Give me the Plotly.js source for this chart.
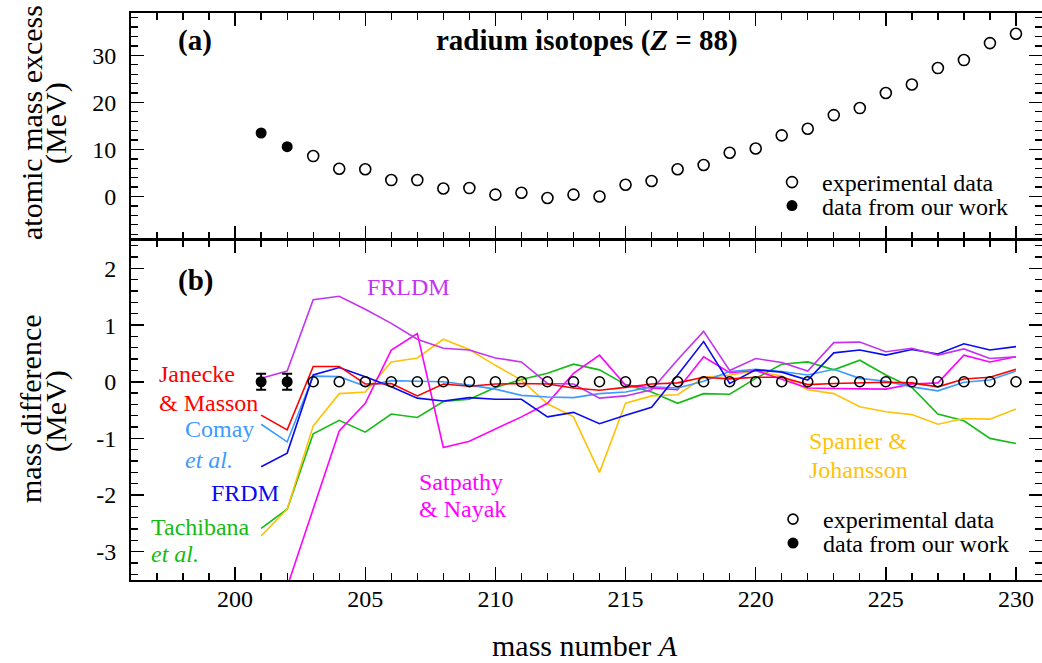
<!DOCTYPE html>
<html>
<head>
<meta charset="utf-8">
<script src="https://cdn.plot.ly/plotly-3.0.1.min.js"></script>
<style>html,body{margin:0;padding:0;background:#fff;}#chart{width:1042px;height:663px;}</style>
</head>
<body>
<div id="chart"></div>
<script>
// ---------- data ----------
const massNumbers = [201,202,203,204,205,206,207,208,209,210,211,212,213,214,215,216,217,218,219,220,221,222,223,224,225,226,227,228,229,230];

// panel (a): atomic mass excess (MeV)
const expA = [203,204,205,206,207,208,209,210,211,212,213,214,215,216,217,218,219,220,221,222,223,224,225,226,227,228,229,230];
const expMassExcess = [8.6,5.9,5.8,3.5,3.5,1.7,1.8,0.4,0.8,-0.3,0.4,0.0,2.5,3.3,5.8,6.7,9.3,10.2,13.0,14.4,17.3,18.8,22.0,23.8,27.3,29.0,32.6,34.6];
const ourA = [201,202];
const ourMassExcess = [13.5,10.6];

// panel (b): mass difference (MeV)
const expDiff = [0,0,0,0,0,0,0,0,0,0,0,0,0,0,0,0,0,0,0,0,0,0,0,0,0,0,0,0];
const ourDiff = [0,0];
const ourDiffErr = [0.14,0.14];

const janeckeMasson = [-0.59,-0.85,0.27,0.27,-0.04,-0.03,-0.25,-0.04,-0.08,-0.04,-0.03,-0.04,-0.11,-0.15,-0.10,-0.04,-0.02,0.08,0.05,0.08,0.08,-0.05,-0.03,-0.02,-0.01,-0.02,-0.09,0.05,0.08,0.22];
const comay = [-0.75,-1.06,0.10,0.09,-0.08,0.02,0.01,0.00,-0.06,-0.13,-0.24,-0.27,-0.28,-0.21,-0.18,-0.09,-0.11,0.01,0.18,0.22,0.18,0.12,0.22,0.06,0.01,-0.09,-0.16,-0.01,0.03,0.19];
const frdm = [-1.50,-1.26,0.12,0.25,0.09,-0.09,-0.29,-0.34,-0.28,-0.31,-0.31,-0.62,-0.54,-0.74,-0.59,-0.45,0.12,0.71,-0.03,0.21,0.17,0.03,0.51,0.56,0.47,0.57,0.49,0.67,0.56,0.62];
const tachibana = [-2.59,-2.25,-0.92,-0.68,-0.89,-0.57,-0.63,-0.35,-0.31,-0.10,0.04,0.15,0.31,0.21,-0.05,-0.18,-0.38,-0.21,-0.22,0.06,0.31,0.35,0.21,0.38,0.12,-0.10,-0.57,-0.69,-1.00,-1.09];
const spanierJohansson = [-2.72,-2.25,-0.78,-0.21,-0.18,0.35,0.42,0.75,0.57,0.29,0.03,-0.39,-0.62,-1.60,-0.38,-0.25,-0.23,0.08,0.12,0.19,0.10,-0.14,-0.21,-0.44,-0.53,-0.58,-0.75,-0.65,-0.66,-0.48];
const satpathyA = [202,203,204,205,206,207,208,209,210,211,212,213,214,215,216,217,218,219,220,221,222,223,224,225,226,227,228,229,230];
const satpathyNayak = [-3.62,-2.25,-0.87,-0.38,0.56,0.85,-1.16,-1.05,-0.84,-0.62,-0.38,0.15,0.47,-0.06,-0.11,-0.14,0.44,0.16,0.20,0.05,-0.11,-0.12,-0.12,-0.13,-0.04,-0.02,0.47,0.35,0.44];
const frldm = [0.06,0.19,1.45,1.51,1.28,1.03,0.75,0.59,0.56,0.42,0.35,-0.03,-0.04,-0.29,-0.25,-0.14,0.39,0.89,0.20,0.41,0.34,0.19,0.69,0.70,0.53,0.59,0.47,0.58,0.41,0.44];

const xTickVals = [200,205,210,215,220,225,230];
const yTopTickVals = [0,10,20,30];
const yBotTickVals = [-3,-2,-1,0,1,2];
const yBotTickText = ['-3','-2','-1','0','1','2'];

// ---------- style ----------
const FONT = 'Liberation Serif, Times New Roman, serif';
const C = {
  janecke:'#ff0000', comay:'#3d9bff', frdm:'#0a0aee', tachibana:'#14bb14',
  spanier:'#ffc20a', satpathy:'#ff00ff', frldm:'#c533f2'
};

function modelTrace(x, y, color){
  return {x:x, y:y, type:'scatter', mode:'lines', xaxis:'x', yaxis:'y',
          line:{color:color, width:1.6}, showlegend:false, hoverinfo:'skip'};
}

const traces = [
  // panel (a)
  {x:expA, y:expMassExcess, type:'scatter', mode:'markers', xaxis:'x2', yaxis:'y2',
   marker:{symbol:'circle-open', size:11, color:'#000', line:{width:1.6, color:'#000'}},
   name:'experimental data', legend:'legend'},
  {x:ourA, y:ourMassExcess, type:'scatter', mode:'markers', xaxis:'x2', yaxis:'y2',
   marker:{symbol:'circle', size:11, color:'#000'},
   name:'data from our work', legend:'legend2'},
  // panel (b) models
  modelTrace(massNumbers, tachibana, C.tachibana),
  modelTrace(massNumbers, spanierJohansson, C.spanier),
  modelTrace(satpathyA, satpathyNayak, C.satpathy),
  modelTrace(massNumbers, comay, C.comay),
  modelTrace(massNumbers, frdm, C.frdm),
  modelTrace(massNumbers, frldm, C.frldm),
  modelTrace(massNumbers, janeckeMasson, C.janecke),
  // panel (b) data
  {x:expA, y:expDiff, type:'scatter', mode:'markers', xaxis:'x', yaxis:'y',
   marker:{symbol:'circle-open', size:10, color:'#000', line:{width:1.6, color:'#000'}},
   name:'experimental data', legend:'legend3'},
  {x:ourA, y:ourDiff, type:'scatter', mode:'markers', xaxis:'x', yaxis:'y',
   error_y:{type:'data', array:ourDiffErr, visible:true, color:'#000', thickness:2, width:5},
   marker:{symbol:'circle', size:11, color:'#000'},
   name:'data from our work', legend:'legend4'}
];

const axisCommon = {
  showline:true, linecolor:'#000', linewidth:2, mirror:'ticks',
  ticks:'inside', ticklen:13, tickwidth:1.5, tickcolor:'#000',
  showgrid:false, zeroline:false,
  tickfont:{family:FONT, size:24, color:'#000'}
};

const legendCommon = {font:{family:FONT, size:24, color:'#000'}, bgcolor:'rgba(0,0,0,0)',
  xanchor:'left', yanchor:'middle', itemsizing:'trace', itemwidth:50};

function px2x(px){ return (px-131)/911; }
function py2y(py){ return (580-py)/567; }

function label(text, px, py, color, opts){
  return Object.assign({text:text, xref:'paper', yref:'paper', x:px2x(px), y:py2y(py),
    xanchor:'left', yanchor:'middle', showarrow:false,
    font:{family:FONT, size:24, color:color}}, opts||{});
}

const layout = {
  width:1042, height:663,
  margin:{l:131, r:0, t:13, b:83},
  paper_bgcolor:'#fff', plot_bgcolor:'#fff',
  font:{family:FONT, color:'#000'},
  xaxis:Object.assign({}, axisCommon, {anchor:'y', domain:[0,1], range:[196,231],
    tickvals:xTickVals, ticklabelstandoff:-4,
    minor:{dtick:1, tick0:196, ticks:'inside', ticklen:7, tickwidth:1.3, tickcolor:'#000', showgrid:false}}),
  xaxis2:Object.assign({}, axisCommon, {anchor:'y2', domain:[0,1], range:[196,231], matches:'x',
    tickvals:xTickVals, showticklabels:false,
    minor:{dtick:1, tick0:196, ticks:'inside', ticklen:7, tickwidth:1.3, tickcolor:'#000', showgrid:false}}),
  yaxis:Object.assign({}, axisCommon, {anchor:'x', domain:[0,0.5994], range:[-3.5,2.5],
    tickvals:yBotTickVals, ticktext:yBotTickText, ticklabelstandoff:8,
    minor:{dtick:0.2, tick0:0, ticks:'inside', ticklen:7, tickwidth:1.3, tickcolor:'#000', showgrid:false}}),
  yaxis2:Object.assign({}, axisCommon, {anchor:'x2', domain:[0.6016,1], range:[-9,39],
    tickvals:yTopTickVals, ticklabelstandoff:8,
    minor:{dtick:2, tick0:0, ticks:'inside', ticklen:7, tickwidth:1.3, tickcolor:'#000', showgrid:false}}),
  legend:Object.assign({}, legendCommon, {x:px2x(762), y:py2y(182.5)}),
  legend2:Object.assign({}, legendCommon, {x:px2x(762), y:py2y(206)}),
  legend3:Object.assign({}, legendCommon, {x:px2x(763), y:py2y(519.5)}),
  legend4:Object.assign({}, legendCommon, {x:px2x(763), y:py2y(543.5)}),
  annotations:[
    label('<b>(a)</b>', 176, 40, '#000', {font:{family:FONT, size:29, color:'#000'}}),
    label('<b>radium isotopes (<i>Z</i> = 88)</b>', 587, 40, '#000', {xanchor:'center', font:{family:FONT, size:29, color:'#000'}}),
    label('<b>(b)</b>', 176, 280, '#000', {font:{family:FONT, size:29, color:'#000'}}),
    label('FRLDM', 365, 287, C.frldm),
    label('Janecke', 157, 374, C.janecke),
    label('&amp; Masson', 157, 403, C.janecke),
    label('Comay', 183, 429, C.comay),
    label('<i>et al.</i>', 183, 460, C.comay),
    label('FRDM', 209, 493, C.frdm),
    label('Tachibana', 149, 527, C.tachibana),
    label('<i>et al.</i>', 149, 554, C.tachibana),
    label('Satpathy', 417, 482, C.satpathy),
    label('&amp; Nayak', 417, 509, C.satpathy),
    label('Spanier &amp;', 807, 441, C.spanier),
    label('Johansson', 807, 470, C.spanier),
    label('atomic mass excess', 31, 123, '#000', {xanchor:'center', textangle:-90, font:{family:FONT, size:30, color:'#000'}}),
    label('(MeV)', 56, 123, '#000', {xanchor:'center', textangle:-90, font:{family:FONT, size:30, color:'#000'}}),
    label('mass difference', 30, 409, '#000', {xanchor:'center', textangle:-90, font:{family:FONT, size:30, color:'#000'}}),
    label('(MeV)', 56, 411, '#000', {xanchor:'center', textangle:-90, font:{family:FONT, size:30, color:'#000'}}),
    label('mass number <i>A</i>', 585, 645, '#000', {xanchor:'center', font:{family:FONT, size:30, color:'#000'}})
  ]
};

Plotly.newPlot('chart', traces, layout, {displayModeBar:false, staticPlot:true});
</script>
</body>
</html>
